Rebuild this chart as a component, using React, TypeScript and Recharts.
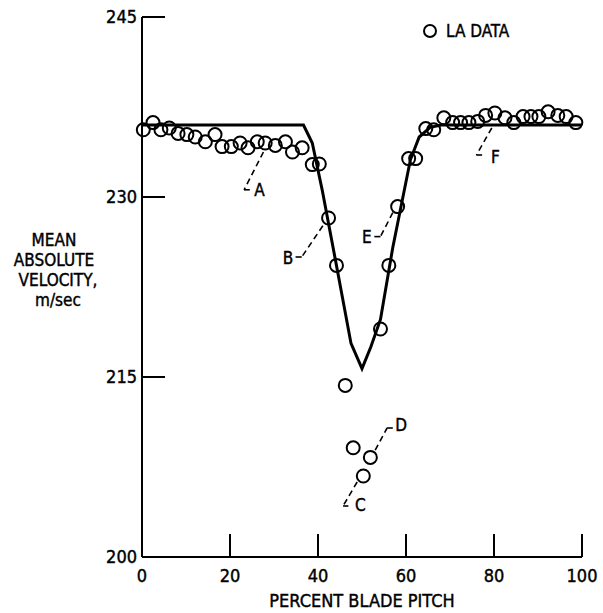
import { ComposedChart, Line, Scatter, XAxis, YAxis, ReferenceLine, ReferenceDot, Legend } from 'recharts';

// theory curve (solid line)
const curveX = [0, 36.7, 38.7, 41, 44.4, 47.5, 50, 52, 54.2, 57, 61, 63, 65.5, 68, 100];
const curveY = [236, 236, 234.5, 230.5, 223.9, 217.8, 215.7, 217.5, 219.8, 225.8, 233.1, 235, 235.8, 236, 236];

// LA measurements (open circles)
const laX = [
    0.3, 2.5, 4.3, 6.2, 8.2, 10.2, 12.1, 14.4, 16.6, 18.2, 20.3, 22.3, 24.1, 26.2, 28.0, 30.3, 32.6, 34.2, 36.4,
    38.7, 40.3, 42.4, 44.2, 46.2, 48.0, 50.3, 51.9, 54.2, 56.1, 58.1, 60.6, 62.2, 64.5, 66.3, 68.6, 70.6, 72.4,
    74.3, 76.3, 78.1, 80.2, 82.5, 84.5, 86.6, 88.4, 90.2, 92.3, 94.5, 96.4, 98.6,
];
const laY = [
    235.6, 236.2, 235.6, 235.75, 235.3, 235.2, 235.0, 234.6, 235.2, 234.2, 234.2, 234.5, 234.1, 234.6, 234.5, 234.3,
    234.6, 233.75, 234.1, 232.7, 232.75, 228.25, 224.3, 214.3, 209.1, 206.75, 208.3, 219.0, 224.3, 229.2, 233.2, 233.2,
    235.7, 235.6, 236.6, 236.2, 236.2, 236.2, 236.3, 236.8, 237.0, 236.6, 236.2, 236.7, 236.7, 236.7, 237.1, 236.8,
    236.7, 236.2,
];

const xTicks = [0, 20, 40, 60, 80, 100];
const yTicks = [200, 215, 230, 245];

// point labels and their leaders: [circle end, corner, stub end]
const tags = ['A', 'B', 'C', 'D', 'E', 'F'];
const tagX = [26.7, 33.2, 49.6, 58.9, 51.1, 80.3];
const tagY = [230.6, 224.9, 204.3, 211.0, 226.7, 233.3];
const leaders = [
    [[27.6, 233.75], [23.2, 230.6], [24.5, 230.6]],
    [[41.1, 227.6], [36.3, 225.0], [34.9, 225.0]],
    [[48.9, 206.25], [45.7, 204.25], [46.9, 204.25]],
    [[53.0, 208.9], [55.7, 210.75], [57.0, 210.75]],
    [[57.0, 228.7], [54.2, 226.7], [52.8, 226.7]],
    [[79.5, 235.75], [76.0, 233.5], [77.3, 233.5]],
];

const curve = curveX.map((x, i) => ({ x, y: curveY[i] }));
const la = laX.map((x, i) => ({ x, y: laY[i] }));

const FONT = "'Liberation Sans Narrow', 'DejaVu Sans Condensed', sans-serif";
const INK = { fill: '#000', stroke: '#000', strokeWidth: 0.4 };

const XTick = (props: any) => {
    const { x, y, payload } = props;
    return (
        <g>
            {payload.value !== 0 && <line x1={x} x2={x} y1={y} y2={y - 23} stroke="#000" strokeWidth={2} />}
            <text x={x} y={y + 25} textAnchor="middle" fontFamily={FONT} fontSize={18} {...INK}>
                {payload.value}
            </text>
        </g>
    );
};

const YTick = (props: any) => {
    const { x, y, payload } = props;
    return (
        <g>
            {payload.value !== 200 && <line x1={x} x2={x + 23} y1={y} y2={y} stroke="#000" strokeWidth={2} />}
            <text x={x - 5} y={y + 6} textAnchor="end" fontFamily={FONT} fontSize={18} {...INK}>
                {payload.value}
            </text>
        </g>
    );
};

const Ring = (props: any) => (
    <circle cx={props.cx} cy={props.cy} r={6.5} fill="none" stroke="#000" strokeWidth={2} />
);

const LegendBox = () => (
    <div style={{ display: 'flex', alignItems: 'center', fontFamily: FONT, fontSize: 17, color: '#000', WebkitTextStroke: '0.4px #000' }}>
        <svg width={16} height={16} style={{ marginRight: 8 }}>
            <circle cx={8} cy={8} r={6} fill="none" stroke="#000" strokeWidth={2} />
        </svg>
        LA DATA
    </div>
);

export default function App() {
    return (
        <div style={{ position: 'absolute', left: 0, top: 0, background: '#fff' }}>
            <ComposedChart width={603} height={613} margin={{ top: 17, right: 21, bottom: 0, left: 0 }}>
                <XAxis
                    type="number"
                    dataKey="x"
                    domain={[0, 100]}
                    ticks={xTicks}
                    height={56}
                    tickSize={0}
                    tickMargin={0}
                    tick={<XTick />}
                    axisLine={{ stroke: '#000', strokeWidth: 2 }}
                    label={{
                        value: 'PERCENT BLADE PITCH',
                        position: 'insideBottom',
                        offset: 6,
                        style: { fontFamily: FONT, fontSize: 18, fill: '#000', stroke: '#000', strokeWidth: 0.4, textAnchor: 'middle' },
                    }}
                />
                <YAxis
                    type="number"
                    dataKey="y"
                    domain={[200, 245]}
                    ticks={yTicks}
                    width={142}
                    tickSize={0}
                    tickMargin={0}
                    tick={<YTick />}
                    axisLine={{ stroke: '#000', strokeWidth: 2 }}
                    label={({ viewBox }: any) => (
                        <text x={viewBox.x + 56} y={viewBox.y + 229} textAnchor="middle" fontFamily={FONT} fontSize={17} {...INK}>
                            <tspan x={viewBox.x + 54} dy={0}>MEAN</tspan>
                            <tspan x={viewBox.x + 54} dy={20}>ABSOLUTE</tspan>
                            <tspan x={viewBox.x + 58} dy={20}>VELOCITY,</tspan>
                            <tspan x={viewBox.x + 58} dy={20}>m/sec</tspan>
                        </text>
                    )}
                />
                <Legend
                    layout="horizontal"
                    verticalAlign="middle"
                    align="center"
                    content={<LegendBox />}
                    wrapperStyle={{ position: 'absolute', top: 21, left: 422, width: 'auto', height: 'auto' }}
                />
                {leaders.map((seg, i) => (
                    <ReferenceLine
                        key={'d' + i}
                        segment={[{ x: seg[0][0], y: seg[0][1] }, { x: seg[1][0], y: seg[1][1] }]}
                        stroke="#000"
                        strokeWidth={1.6}
                        strokeDasharray="6 4"
                        ifOverflow="visible"
                    />
                ))}
                {leaders.map((seg, i) => (
                    <ReferenceLine
                        key={'s' + i}
                        segment={[{ x: seg[1][0], y: seg[1][1] }, { x: seg[2][0], y: seg[2][1] }]}
                        stroke="#000"
                        strokeWidth={1.6}
                        ifOverflow="visible"
                    />
                ))}
                {tags.map((t, i) => (
                    <ReferenceDot
                        key={t}
                        x={tagX[i]}
                        y={tagY[i]}
                        r={0}
                        ifOverflow="visible"
                        shape={(p: any) => (
                            <text x={p.cx} y={p.cy + 6} textAnchor="middle" fontFamily={FONT} fontSize={17} {...INK}>
                                {t}
                            </text>
                        )}
                    />
                ))}
                <Line
                    data={curve}
                    dataKey="y"
                    type="linear"
                    stroke="#000"
                    strokeWidth={3}
                    dot={false}
                    isAnimationActive={false}
                    legendType="none"
                />
                <Scatter data={la} dataKey="y" name="LA DATA" shape={<Ring />} isAnimationActive={false} />
            </ComposedChart>
        </div>
    );
}
